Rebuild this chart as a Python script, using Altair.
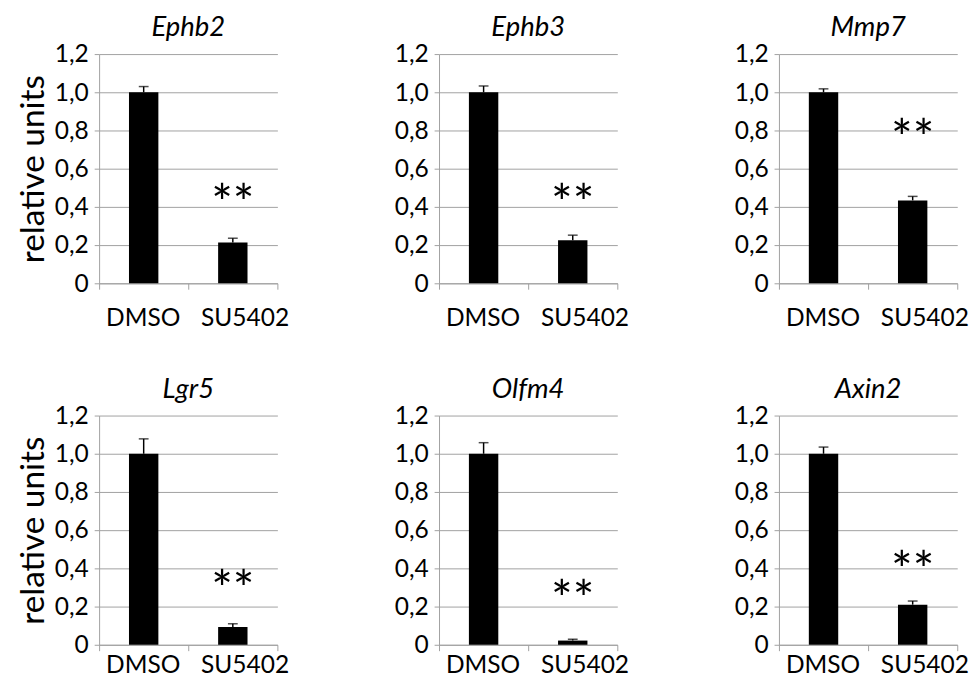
import altair as alt
import pandas as pd

genes = ["Ephb2", "Ephb3", "Mmp7", "Lgr5", "Olfm4", "Axin2"]
groups = ["DMSO", "SU5402"]
dmso_mean = [1.0, 1.0, 1.0, 1.0, 1.0, 1.0]
dmso_err = [0.030, 0.033, 0.018, 0.078, 0.058, 0.035]
su_mean = [0.213, 0.226, 0.434, 0.093, 0.022, 0.210]
su_err = [0.023, 0.026, 0.021, 0.017, 0.007, 0.019]
star_y = [0.46, 0.46, 0.80, 0.33, 0.28, 0.43]
y_ticks = [0, 0.2, 0.4, 0.6, 0.8, 1.0, 1.2]

FONT = "Lato"
GRID = "#a0a0a0"


def panel(i, first_col, label_pad):
    df = pd.DataFrame({
        "group": groups,
        "mean": [dmso_mean[i], su_mean[i]],
        "err": [dmso_err[i], su_err[i]],
    })
    df["top"] = df["mean"] + df["err"]
    stars = pd.DataFrame({"group": ["SU5402"], "star": [star_y[i]]})

    xax = alt.Axis(
        title=None, labelAngle=0, tickBand="extent", grid=False,
        domainColor=GRID, tickColor=GRID, tickSize=6,
        labelFont=FONT, labelFontSize=25, labelColor="black",
        labelPadding=label_pad,
        labelOffset={"condition": {"test": "datum.value === 'DMSO'", "value": -1}, "value": 12},
    )
    xsc = alt.Scale(domain=groups, paddingInner=0, paddingOuter=0)
    yax = alt.Axis(
        values=y_ticks, tickCount=7, labelOverlap=False,
        labelExpr="datum.value == 0 ? '0' : replace(format(datum.value, '.1f'), '.', ',')",
        grid=True, gridColor=GRID, domainColor=GRID, tickColor=GRID, tickSize=5,
        labelFont=FONT, labelFontSize=25, labelColor="black", labelPadding=6,
        title="relative units" if first_col else None,
        titleFont=FONT, titleFontSize=34, titleFontWeight="normal", titleColor="black",
        titlePadding=4,
    )
    ysc = alt.Scale(domain=[0, 1.2], nice=False, zero=True)

    def X():
        return alt.X("group:N", sort=groups, scale=xsc, axis=xax)

    def Y(f):
        return alt.Y(f, scale=ysc, axis=yax)

    base = alt.Chart(df)
    bars = base.mark_bar(size=30, color="black").encode(x=X(), y=Y("mean:Q"))
    rule = base.mark_rule(color="black", strokeWidth=1.5).encode(
        x=X(), y=Y("mean:Q"), y2="top:Q")
    cap = base.mark_tick(color="black", size=10, thickness=1.5).encode(
        x=X(), y=Y("top:Q"))
    star = alt.Chart(stars).mark_text(
        text="**", font=FONT, fontSize=52, color="black", align="center", baseline="middle", dy=10
    ).encode(x=X(), y=Y("star:Q"))

    return alt.layer(bars, rule, cap, star).properties(
        width=182, height=234,
        title=alt.TitleParams(
            text=genes[i], font=FONT, fontSize=28, fontStyle="italic", fontWeight="normal",
            color="black", anchor="middle", baseline="alphabetic", offset=-22,
        ),
    )


row1 = alt.hconcat(*[panel(i, i == 0, 17) for i in range(3)], spacing=107)
row2 = alt.hconcat(*[panel(i, i == 3, 2) for i in range(3, 6)], spacing=107)

chart = alt.vconcat(row1, row2, spacing=47).properties(
    padding={"left": 9, "top": 0, "right": 0, "bottom": 0}
).configure_view(stroke=None)

chart.save("out.html", embed_options={"renderer": "svg", "actions": False})
